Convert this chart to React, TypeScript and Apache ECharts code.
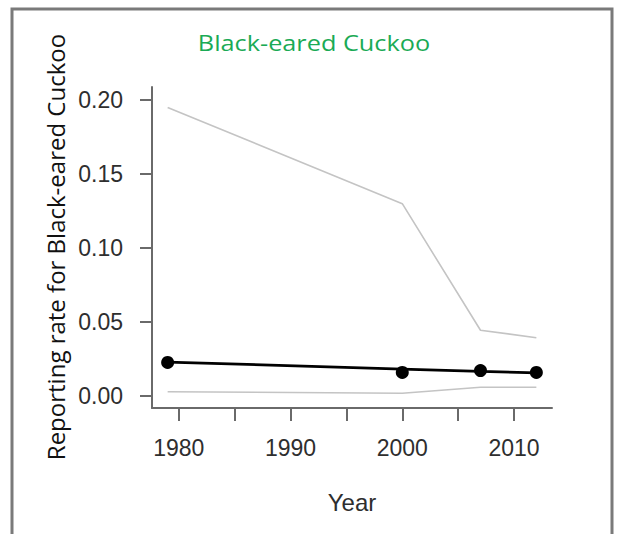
import React, { useEffect, useRef } from "react";
import * as echarts from "echarts";

const years = [1979, 2000, 2007, 2012];
const observed = [0.0228, 0.016, 0.0173, 0.016];
const trend = [0.023, 0.0183, 0.0167, 0.0157];
const upperCI = [0.195, 0.13, 0.0445, 0.0395];
const lowerCI = [0.003, 0.002, 0.006, 0.006];
const yTicks = [0, 0.05, 0.1, 0.15, 0.2];
const xTicks = [1980, 1985, 1990, 1995, 2000, 2005, 2010];
const xLabels = [1980, 1990, 2000, 2010];
const titleText = "Black-eared Cuckoo";
const yTitle = "Reporting rate for Black-eared Cuckoo";
const xTitle = "Year";

const pairs = (ys: number[]) => years.map((x, i) => [x, ys[i]]);

export default function App() {
  const ref = useRef<HTMLDivElement>(null);
  useEffect(() => {
    if (!ref.current) return;
    const chart = echarts.init(ref.current, null, { renderer: "svg" });
    const axisColor = "#6a6a6a";
    const labelColor = "#2e2e2e";
    chart.setOption({
      animation: false,
      backgroundColor: "#fff",
      grid: { left: 152, top: 87, right: 65, bottom: 126 },
      xAxis: {
        type: "value",
        min: 1977.6,
        max: 2013.4,
        splitLine: { show: false },
        axisLine: { show: true, onZero: false, lineStyle: { color: axisColor, width: 2 } },
        axisTick: { show: true, length: 13, customValues: xTicks, lineStyle: { color: axisColor, width: 2 } },
        axisLabel: {
          customValues: xLabels,
          margin: 28,
          fontFamily: "Liberation Sans",
          fontSize: 23,
          color: labelColor,
          formatter: (v: number) => String(v),
        },
        name: xTitle,
        nameLocation: "middle",
        nameGap: 82,
        nameTextStyle: { fontFamily: "Liberation Sans", fontSize: 24, color: labelColor },
      },
      yAxis: {
        type: "value",
        min: -0.008,
        max: 0.2088,
        splitLine: { show: false },
        axisLine: { show: true, lineStyle: { color: axisColor, width: 2 } },
        axisTick: { show: true, length: 12, customValues: yTicks, lineStyle: { color: axisColor, width: 2 } },
        axisLabel: {
          customValues: yTicks,
          margin: 29,
          fontFamily: "Liberation Sans",
          fontSize: 23,
          color: labelColor,
          formatter: (v: number) => v.toFixed(2),
        },
      },
      graphic: [
        {
          type: "polyline",
          shape: { points: [[12, 540], [12, 9], [612, 9], [612, 540]] },
          style: { stroke: "#7a7a7a", lineWidth: 3, fill: "none" },
          silent: true,
        },
        {
          type: "text",
          x: 314,
          y: 43,
          scaleX: 1.15,
          style: {
            text: titleText,
            fontFamily: "Open Sans",
            fontSize: 22,
            fill: "#1aaa55",
            textAlign: "center",
            textVerticalAlign: "middle",
          },
        },
        {
          type: "text",
          x: 55,
          y: 247,
          rotation: Math.PI / 2,
          style: {
            text: yTitle,
            fontFamily: "Open Sans",
            fontSize: 24,
            fill: "#111",
            textAlign: "center",
            textVerticalAlign: "middle",
          },
        },
      ],
      series: [
        {
          type: "line",
          data: pairs(upperCI),
          showSymbol: false,
          lineStyle: { color: "#c4c4c4", width: 1.6 },
          z: 1,
        },
        {
          type: "line",
          data: pairs(lowerCI),
          showSymbol: false,
          lineStyle: { color: "#c4c4c4", width: 1.6 },
          z: 1,
        },
        {
          type: "line",
          data: pairs(trend),
          showSymbol: false,
          lineStyle: { color: "#000", width: 2.8 },
          z: 2,
        },
        {
          type: "scatter",
          data: pairs(observed),
          symbolSize: 13,
          itemStyle: { color: "#000", opacity: 1 },
          z: 3,
        },
      ],
    });
    return () => chart.dispose();
  }, []);
  return (
    <div
      ref={ref}
      style={{ position: "fixed", left: 0, top: 0, width: 617, height: 534, background: "#fff" }}
    />
  );
}
